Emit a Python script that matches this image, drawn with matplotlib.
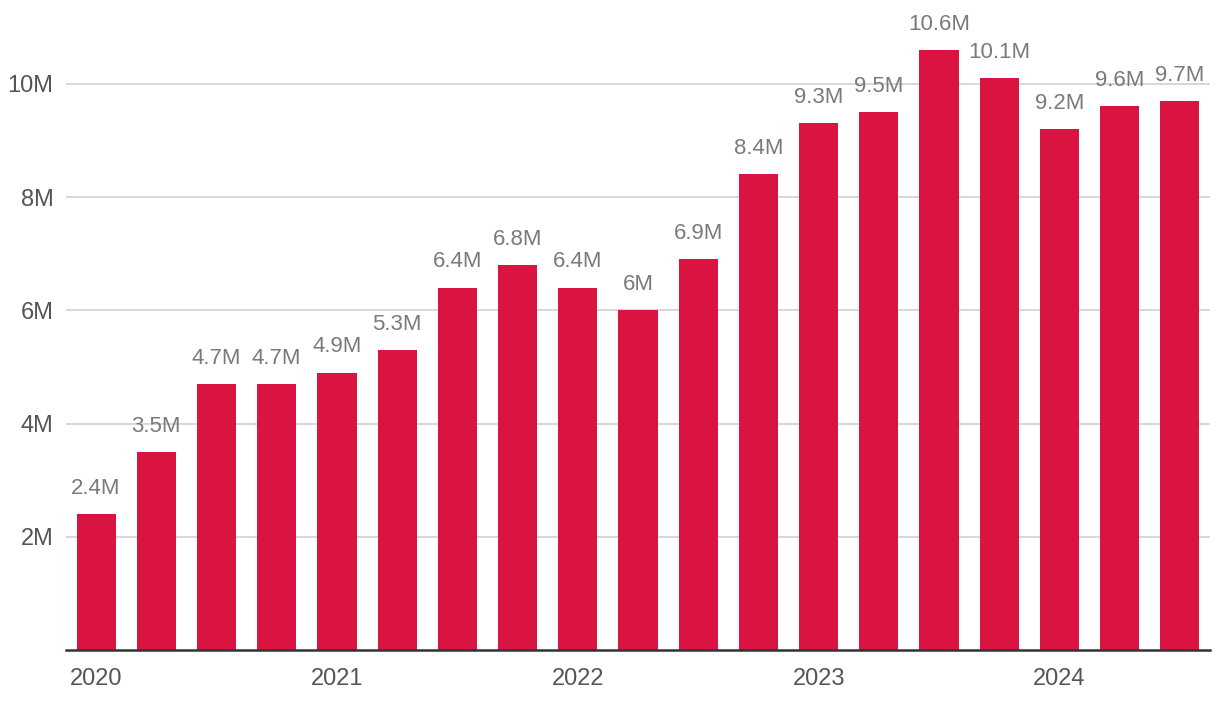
import matplotlib.pyplot as plt
import numpy as np

plt.rcParams['font.family'] = ['Liberation Sans', 'DejaVu Sans']

# quarterly values, 2020 Q1 .. 2024 Q3 (millions)
quarters = ["2020 Q1", "2020 Q2", "2020 Q3", "2020 Q4",
            "2021 Q1", "2021 Q2", "2021 Q3", "2021 Q4",
            "2022 Q1", "2022 Q2", "2022 Q3", "2022 Q4",
            "2023 Q1", "2023 Q2", "2023 Q3", "2023 Q4",
            "2024 Q1", "2024 Q2", "2024 Q3"]
values = [2.4, 3.5, 4.7, 4.7, 4.9, 5.3, 6.4, 6.8, 6.4, 6.0, 6.9, 8.4,
          9.3, 9.5, 10.6, 10.1, 9.2, 9.6, 9.7]
year_ticks = [0, 4, 8, 12, 16]
year_labels = ["2020", "2021", "2022", "2023", "2024"]
y_ticks = [2, 4, 6, 8, 10]


def fmt(v):
    return f"{v:g}M"


fig = plt.figure(figsize=(12.2, 7.1), dpi=100)
ax = fig.add_axes([66 / 1220, 60 / 710, (1210 - 66) / 1220, (710 - 60) / 710])

x = np.arange(len(values))
bars = ax.bar(x, values, width=0.65, color="#d91440", zorder=3)

for b, v in zip(bars, values):
    ax.annotate(fmt(v), (b.get_x() + b.get_width() / 2, v),
                xytext=(0, 11), textcoords="offset points",
                ha="center", va="bottom", fontsize=16, color="#7a7a7a",
                annotation_clip=False)

ax.set_xlim(-0.5, len(values) - 0.5)
ax.set_ylim(0, 11.48)
ax.set_yticks(y_ticks)
ax.set_yticklabels([fmt(t) for t in y_ticks])
ax.set_xticks(year_ticks)
ax.set_xticklabels(year_labels)

ax.grid(True, axis="y", color="#d4d4d4", linewidth=1.3, zorder=0)
ax.tick_params(axis="both", length=0, labelsize=17, labelcolor="#555555")
ax.tick_params(axis="y", pad=9)
ax.tick_params(axis="x", pad=13)

for s in ["top", "right", "left"]:
    ax.spines[s].set_visible(False)
ax.spines["bottom"].set_color("#333333")
ax.spines["bottom"].set_linewidth(1.8)
ax.spines["bottom"].set_zorder(4)

fig.savefig("out.png", dpi=100)
plt.close(fig)
